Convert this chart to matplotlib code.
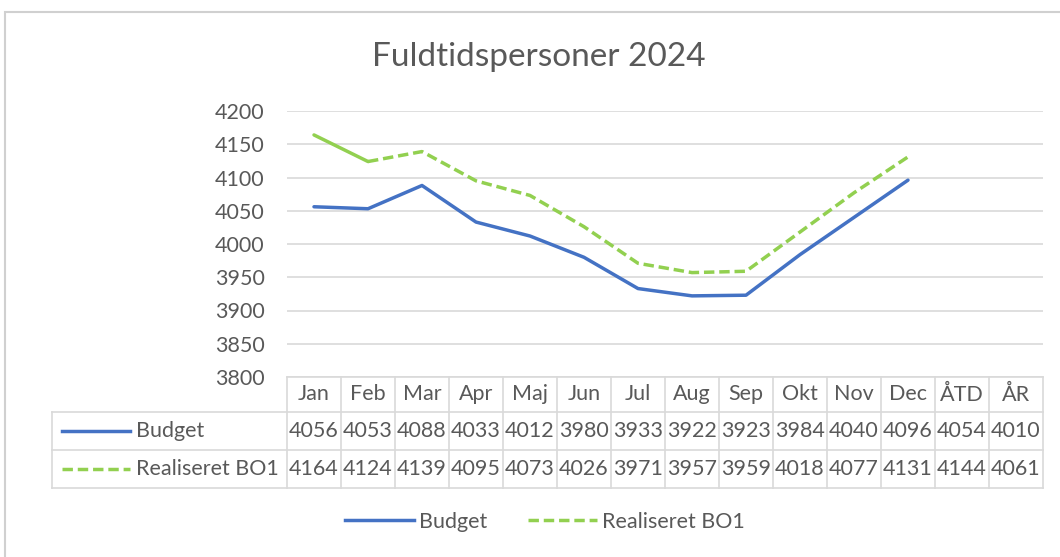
import matplotlib
matplotlib.use("Agg")
import matplotlib.pyplot as plt
import matplotlib.transforms as mtransforms
from matplotlib.lines import Line2D
from matplotlib.patches import Rectangle

plt.rcParams['font.family'] = ['Lato', 'DejaVu Sans']

# data
categories = ['Jan', 'Feb', 'Mar', 'Apr', 'Maj', 'Jun', 'Jul', 'Aug', 'Sep',
              'Okt', 'Nov', 'Dec', 'ÅTD', 'ÅR']
budget = [4056, 4053, 4088, 4033, 4012, 3980, 3933, 3922, 3923, 3984, 4040, 4096, 4054, 4010]
realiseret = [4164, 4124, 4139, 4095, 4073, 4026, 3971, 3957, 3959, 4018, 4077, 4131, 4144, 4061]
n_months = 12
yticks = [3800, 3850, 3900, 3950, 4000, 4050, 4100, 4150, 4200]

W, H = 1060, 557
TEXT = '#595959'
GRID = '#d9d9d9'
BLUE = '#4472c4'
GREEN = '#92d050'
DASH = (3.0, 1.4)
LW = 2.5
FS = 15.5


def fx(px):
    return px / W


def fy(py):
    return 1 - py / H


fig = plt.figure(figsize=(W / 100, H / 100), dpi=100)
fig.add_artist(Rectangle((fx(5), fy(1000)), 2, fy(12) - fy(1000),
                         transform=fig.transFigure, fill=False,
                         edgecolor='#d0d0d0', lw=1.5))

ax_left, ax_right, ax_top, ax_bottom = 287, 1043, 111, 377
ax = fig.add_axes([fx(ax_left), fy(ax_bottom), fx(ax_right - ax_left),
                   (ax_bottom - ax_top) / H])

x = list(range(len(categories)))
ax.plot(x[:n_months], budget[:n_months], color=BLUE, lw=LW,
        solid_capstyle='round', zorder=3)
# first segment of the realised line is solid, the rest dashed
ax.plot(x[:2], realiseret[:2], color=GREEN, lw=LW, solid_capstyle='round', zorder=3)
ax.plot(x[1:n_months], realiseret[1:n_months], color=GREEN, lw=LW,
        dashes=DASH, zorder=3)

ax.set_xlim(-0.5, len(categories) - 0.5)
ax.set_ylim(yticks[0], yticks[-1])
ax.set_yticks(yticks)
ax.set_xticks([])
ax.yaxis.grid(True, color=GRID, lw=1.2)
ax.set_axisbelow(True)
ax.tick_params(axis='y', length=0, pad=16, labelsize=FS, labelcolor=TEXT)
for s in ax.spines.values():
    s.set_visible(False)

fig.text(fx(539), fy(57), 'Fuldtidspersoner 2024', ha='center', va='center',
         fontsize=24, color=TEXT)

# data table under the plot
tr = mtransforms.blended_transform_factory(ax.transData, fig.transFigure)
rows_y = [377, 412, 450, 488]
left_px = 52
for k in range(len(categories) + 1):
    fig.add_artist(Line2D([k - 0.5, k - 0.5], [fy(rows_y[0]), fy(rows_y[-1])],
                          transform=tr, color=GRID, lw=1.2))
fig.add_artist(Line2D([fx(ax_left), fx(ax_right)], [fy(rows_y[0])] * 2,
                      transform=fig.transFigure, color=GRID, lw=1.2))
for yy in rows_y[1:]:
    fig.add_artist(Line2D([fx(left_px), fx(ax_right)], [fy(yy)] * 2,
                          transform=fig.transFigure, color=GRID, lw=1.2))
fig.add_artist(Line2D([fx(left_px)] * 2, [fy(rows_y[1]), fy(rows_y[-1])],
                      transform=fig.transFigure, color=GRID, lw=1.2))

for i, cat in enumerate(categories):
    yc = (rows_y[0] + rows_y[1]) / 2
    fig.text(i, fy(yc), cat, transform=tr, ha='center', va='center',
             fontsize=FS, color=TEXT)
    fig.text(i, fy((rows_y[1] + rows_y[2]) / 2), str(budget[i]), transform=tr,
             ha='center', va='center', fontsize=FS, color=TEXT)
    fig.text(i, fy((rows_y[2] + rows_y[3]) / 2), str(realiseret[i]), transform=tr,
             ha='center', va='center', fontsize=FS, color=TEXT)

series = [('Budget', BLUE, None), ('Realiseret BO1', GREEN, DASH)]
for j, (name, col, dash) in enumerate(series):
    yc = fy((rows_y[j + 1] + rows_y[j + 2]) / 2)
    key = Line2D([fx(62), fx(130)], [yc, yc], transform=fig.transFigure,
                 color=col, lw=LW)
    if dash:
        key.set_dashes(dash)
    fig.add_artist(key)
    fig.text(fx(136), yc, name, ha='left', va='center', fontsize=FS, color=TEXT)

# legend at the bottom
handles = [Line2D([], [], color=BLUE, lw=LW),
           Line2D([], [], color=GREEN, lw=LW, dashes=DASH)]
fig.legend(handles, [s[0] for s in series], loc='center',
           bbox_to_anchor=(fx(545), fy(522)), ncol=2, frameon=False,
           fontsize=FS, labelcolor=TEXT, handlelength=3.2, handletextpad=0.25,
           columnspacing=1.9)

fig.savefig('out.png', dpi=100)
